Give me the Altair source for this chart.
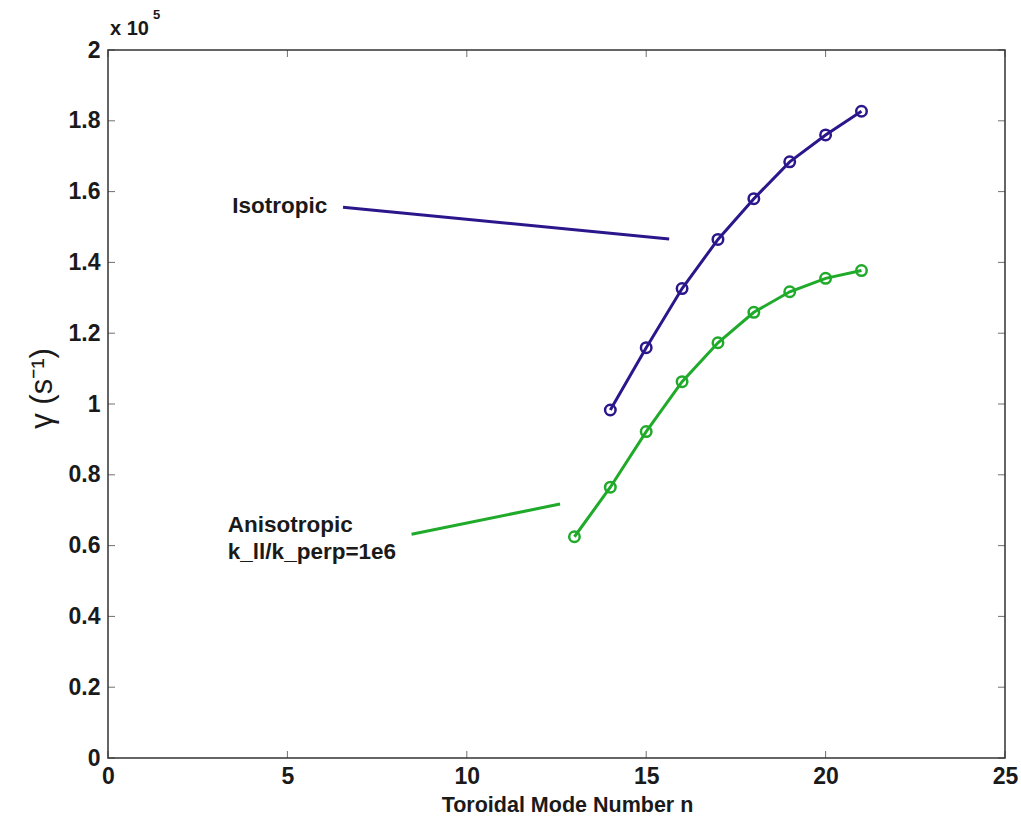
import altair as alt
import pandas as pd

# ---- data (gamma in units of 1e5 s^-1) ----
n_iso = [14, 15, 16, 17, 18, 19, 20, 21]
gamma_iso = [0.983, 1.159, 1.326, 1.465, 1.580, 1.684, 1.760, 1.827]

n_aniso = [13, 14, 15, 16, 17, 18, 19, 20, 21]
gamma_aniso = [0.625, 0.765, 0.922, 1.063, 1.173, 1.259, 1.317, 1.355, 1.377]

x_ticks = [0, 5, 10, 15, 20, 25]
y_ticks = [0, 0.2, 0.4, 0.6, 0.8, 1.0, 1.2, 1.4, 1.6, 1.8, 2.0]

# annotation pointer lines (data coordinates)
ptr_series = ["Isotropic", "Anisotropic"]
ptr_x1 = [6.55, 8.46]
ptr_y1 = [1.556, 0.632]
ptr_x2 = [15.64, 12.6]
ptr_y2 = [1.466, 0.7175]

# annotation labels
lab_text = ["Isotropic", "Anisotropic", "k_ll/k_perp=1e6"]
lab_x = [3.46, 3.34, 3.34]
lab_y = [1.56, 0.658, 0.582]

ISO = "#2b168c"
ANISO = "#1faa2a"
FONT = "Liberation Sans"
W, H = 897, 708

iso_df = pd.DataFrame({"n": n_iso, "gamma": gamma_iso})
aniso_df = pd.DataFrame({"n": n_aniso, "gamma": gamma_aniso})
ptr_df = pd.DataFrame({"series": ptr_series, "x1": ptr_x1, "y1": ptr_y1, "x2": ptr_x2, "y2": ptr_y2})
lab_df = pd.DataFrame({"text": lab_text, "x": lab_x, "y": lab_y})
xt_df = pd.DataFrame({"v": x_ticks})
yt_df = pd.DataFrame({"v": y_ticks})

xscale = alt.Scale(domain=[0, 25], nice=False, zero=False)
yscale = alt.Scale(domain=[0, 2], nice=False, zero=False)

xaxis = alt.Axis(
    values=x_ticks, ticks=False, domain=False, grid=False, format="~g",
    labelPadding=7, labelFontSize=23, labelFont=FONT, labelFontWeight="bold",
    labelColor="#1a1a1a",
    title="Toroidal Mode Number n", titleFont=FONT, titleFontSize=21.5,
    titleFontWeight="bold", titleColor="#1a1a1a",
    titleX=459, titleY=47, titleBaseline="middle", titleAnchor="middle",
    labelFlush=False,
)
yaxis = alt.Axis(
    values=y_ticks, ticks=False, domain=False, grid=False, format="~g",
    labelPadding=8, labelFontSize=23, labelFont=FONT, labelFontWeight="bold",
    labelColor="#1a1a1a", labelFlush=False,
    title="γ (s⁻¹)", titleFont=FONT, titleFontSize=31, titleFontWeight="normal",
    titleColor="#1a1a1a", titleAngle=270, titleX=-66, titleY=338,
    titleAlign="center", titleBaseline="middle",
)

base_x = alt.X("n:Q", scale=xscale, axis=xaxis)
base_y = alt.Y("gamma:Q", scale=yscale, axis=yaxis)

iso_line = alt.Chart(iso_df).mark_line(color=ISO, strokeWidth=3).encode(x=base_x, y=base_y)
iso_pts = alt.Chart(iso_df).mark_point(
    shape="circle", filled=False, color=ISO, size=110, strokeWidth=2.5, opacity=1
).encode(x="n:Q", y="gamma:Q")

an_line = alt.Chart(aniso_df).mark_line(color=ANISO, strokeWidth=3).encode(x="n:Q", y="gamma:Q")
an_pts = alt.Chart(aniso_df).mark_point(
    shape="circle", filled=False, color=ANISO, size=110, strokeWidth=2.5, opacity=1
).encode(x="n:Q", y="gamma:Q")

ptrs = alt.Chart(ptr_df).mark_rule(strokeWidth=3).encode(
    x="x1:Q", y="y1:Q", x2="x2:Q", y2="y2:Q",
    color=alt.Color("series:N", scale=alt.Scale(domain=["Isotropic", "Anisotropic"], range=[ISO, ANISO]), legend=None),
)

labels = alt.Chart(lab_df).mark_text(
    align="left", baseline="middle", font=FONT, fontSize=22.5, fontWeight="bold", color="#1a1a1a"
).encode(x="x:Q", y="y:Q", text="text:N")

# inward ticks (MATLAB style) on all four sides
tick_col = "#333333"
xt_bottom = alt.Chart(xt_df).mark_tick(orient="vertical", size=7, thickness=1, color=tick_col).encode(
    x="v:Q", y=alt.value(H - 3.5))
xt_top = alt.Chart(xt_df).mark_tick(orient="vertical", size=7, thickness=1, color=tick_col).encode(
    x="v:Q", y=alt.value(3.5))
yt_left = alt.Chart(yt_df).mark_tick(orient="horizontal", size=7, thickness=1, color=tick_col).encode(
    y="v:Q", x=alt.value(3.5))
yt_right = alt.Chart(yt_df).mark_tick(orient="horizontal", size=7, thickness=1, color=tick_col).encode(
    y="v:Q", x=alt.value(W - 3.5))

# exponent label "x 10^5"
exp_base = alt.Chart(pd.DataFrame({"t": ["x 10"]})).mark_text(
    align="left", baseline="middle", font=FONT, fontSize=20, fontWeight="bold", color="#1a1a1a"
).encode(x=alt.value(2), y=alt.value(-21), text="t:N")
exp_pow = alt.Chart(pd.DataFrame({"t": ["5"]})).mark_text(
    align="left", baseline="middle", font=FONT, fontSize=13, fontWeight="bold", color="#1a1a1a"
).encode(x=alt.value(45), y=alt.value(-35), text="t:N")

chart = alt.layer(
    iso_line, an_line, ptrs, iso_pts, an_pts, labels,
    xt_bottom, xt_top, yt_left, yt_right, exp_base, exp_pow,
).properties(
    width=W, height=H,
    autosize=alt.AutoSizeParams(type="none"),
    padding={"left": 108, "top": 50, "right": 16, "bottom": 62},
    background="white",
).configure_view(
    stroke="#333333", strokeWidth=1.5
)

chart.save("out.html", embed_options={"renderer": "svg", "actions": False})
